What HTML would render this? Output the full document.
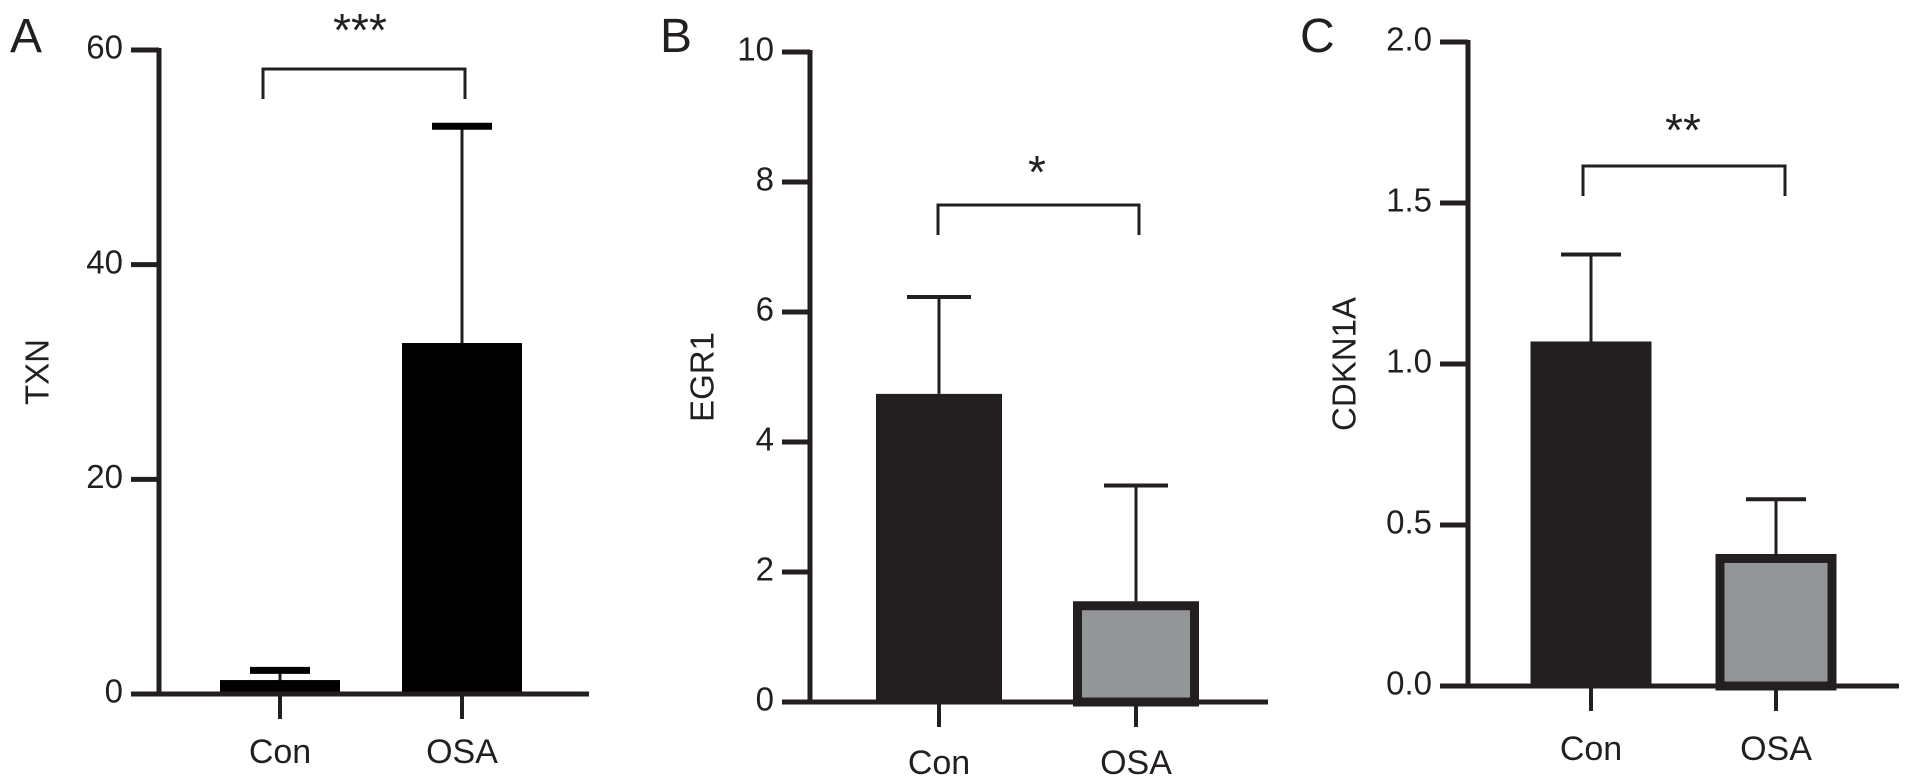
<!DOCTYPE html>
<html><head><meta charset="utf-8"><style>
html,body{margin:0;padding:0;background:#fff;}
svg{display:block;font-family:"Liberation Sans",Arial,sans-serif;}
</style></head><body>
<svg id="fig" width="1913" height="783" viewBox="0 0 1913 783" xmlns="http://www.w3.org/2000/svg"></svg>
<script>
const categories = ["Con","OSA"];
const txnMeans = [1.3, 32.7];
const txnErr = [2.2, 52.9];
const egr1Means = [4.74, 1.55];
const egr1Err = [6.23, 3.33];
const cdkMeans = [1.07, 0.41];
const cdkErr = [1.34, 0.58];
const txnTicks = [0,20,40,60];
const egr1Ticks = [0,2,4,6,8,10];
const cdkTicks = [0,0.5,1.0,1.5,2.0];
const cdkTickLabels = ["0.0","0.5","1.0","1.5","2.0"];
const sigLabels = ["***","*","**"];

const NS = "http://www.w3.org/2000/svg";
const svg = document.getElementById('fig');
function mk(tag, attrs, parent){const e=document.createElementNS(NS,tag);for(const k in attrs)e.setAttribute(k,attrs[k]);(parent||svg).appendChild(e);return e;}

const panels = [
 {id:"a",letter:"A",lx:10,ly:52,title:"TXN",tx:40,ax:159,y0:694,y1:50,max:60,tl:131,xend:589,
  cx:[280,462],bw:120,means:txnMeans,err:txnErr,ticks:txnTicks,labels:txnTicks.map(String),
  fills:["#000","#000"],border:[false,false],br:[263,465,69,99],sy:34,sx:360,sig:sigLabels[0],capw:60,laby:754},
 {id:"b",letter:"B",lx:660,ly:52,title:"EGR1",tx:705,ax:810,y0:702,y1:52,max:10,tl:782,xend:1268,
  cx:[939,1136],bw:126,means:egr1Means,err:egr1Err,ticks:egr1Ticks,labels:egr1Ticks.map(String),
  fills:["#231f20","#939598"],border:[false,true],br:[938,1139,205,235],sy:176,sx:1037,sig:sigLabels[1],capw:64,laby:765},
 {id:"c",letter:"C",lx:1300,ly:52,title:"CDKN1A",tx:1347,ax:1468,y0:686,y1:42,max:2,tl:1440,xend:1899,
  cx:[1591,1776],bw:121,means:cdkMeans,err:cdkErr,ticks:cdkTicks,labels:cdkTickLabels,
  fills:["#231f20","#939598"],border:[false,true],br:[1583,1785,166,196],sy:134,sx:1683,sig:sigLabels[2],capw:60,laby:751}
];

panels.forEach(p=>{
  const g = mk('g',{});
  
  
  const ys = v => p.y0 - (v/p.max)*(p.y0-p.y1);
  const L = mk('text',{x:p.lx,y:p.ly,'font-size':48,fill:'#231f20'},g); L.textContent=p.letter;
   
  const T = mk('text',{x:p.tx,y:(p.y0+p.y1)/2,'font-size':33,fill:'#231f20','text-anchor':'middle',transform:`rotate(-90 ${p.tx} ${(p.y0+p.y1)/2})`,'dominant-baseline':'middle'},g);
  T.textContent=p.title;
   
  p.means.forEach((m,i)=>{
    const x=p.cx[i]-p.bw/2, top=ys(m);
    const eb = mk('line',{x1:p.cx[i],x2:p.cx[i],y1:top,y2:ys(p.err[i]),stroke:'#231f20','stroke-width':3},g);
     
    const cap = mk('line',{x1:p.cx[i]-p.capw/2,x2:p.cx[i]+p.capw/2,y1:ys(p.err[i]),y2:ys(p.err[i]),stroke:p.id==='a'?'#000':'#231f20','stroke-width':p.id==='a'?7:4},g);
     
    let r;
    if(p.border[i]){
      r = mk('rect',{x:x+4.5,y:top+4.5,width:p.bw-9,height:p.y0-top-4.5,fill:p.fills[i],stroke:'#231f20','stroke-width':9},g);
    } else {
      r = mk('rect',{x:x,y:top,width:p.bw,height:p.y0-top,fill:p.fills[i]},g);
    }
     
    const xt = mk('line',{x1:p.cx[i],x2:p.cx[i],y1:p.y0,y2:p.y0+25,stroke:'#231f20','stroke-width':4},g);
     
    const xl = mk('text',{x:p.cx[i],y:p.laby,'font-size':34,fill:'#231f20','text-anchor':'middle','dominant-baseline':'middle'},g);
    xl.textContent=categories[i];
     
  });
  const ya = mk('line',{x1:p.ax,x2:p.ax,y1:p.y1-2,y2:p.y0,stroke:'#231f20','stroke-width':5},g);
   
  const xa = mk('line',{x1:p.tl,x2:p.xend,y1:p.y0,y2:p.y0,stroke:'#231f20','stroke-width':5},g);
   
  p.ticks.forEach((t,i)=>{
    const y=ys(t);
    const tk = mk('line',{x1:p.tl,x2:p.ax,y1:y,y2:y,stroke:'#231f20','stroke-width':5},g);
     
    const tl = mk('text',{x:p.tl-8,y:y,'font-size':33,fill:'#231f20','text-anchor':'end','dominant-baseline':'middle'},g);
    tl.textContent=p.labels[i];
     
  });
  const b=p.br;
  const br = mk('polyline',{points:`${b[0]},${b[3]} ${b[0]},${b[2]} ${b[1]},${b[2]} ${b[1]},${b[3]}`,fill:'none',stroke:'#231f20','stroke-width':3},g);
   
  const s = mk('text',{x:p.sx,y:p.sy,'font-size':46,fill:'#231f20','text-anchor':'middle','dominant-baseline':'middle'},g);
  s.textContent=p.sig;
   
});
</script>
</body></html>
